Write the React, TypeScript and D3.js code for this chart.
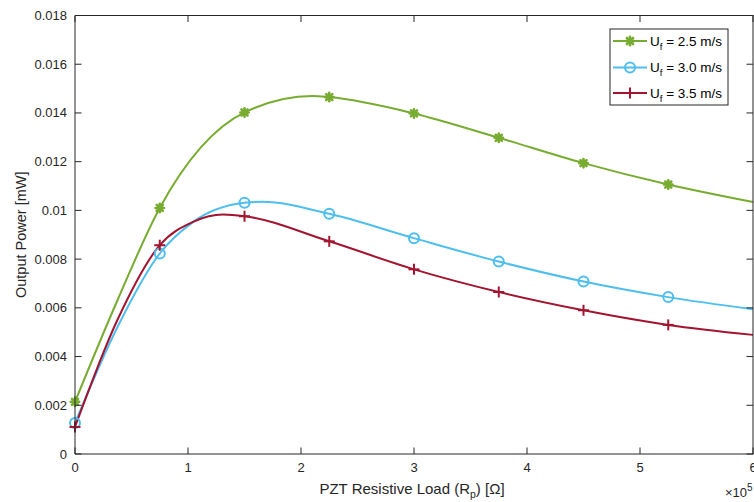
import React from "react";
import * as d3 from "d3";

// ---------- data ----------
const xTicks = [0, 1, 2, 3, 4, 5, 6];
const xTickLabels = ["0", "1", "2", "3", "4", "5", "6"];
const yTicks = [0, 0.002, 0.004, 0.006, 0.008, 0.01, 0.012, 0.014, 0.016, 0.018];
const yTickLabels = ["0", "0.002", "0.004", "0.006", "0.008", "0.01", "0.012", "0.014", "0.016", "0.018"];

const markerX = [0, 0.75, 1.5, 2.25, 3, 3.75, 4.5, 5.25];
const greenMarkers = [0.00214, 0.0101, 0.01402, 0.01465, 0.01398, 0.01298, 0.01194, 0.01106];
const blueMarkers = [0.00127, 0.00823, 0.01031, 0.00986, 0.00886, 0.0079, 0.00708, 0.00644];
const redMarkers = [0.00111, 0.00857, 0.00976, 0.00873, 0.00758, 0.00665, 0.0059, 0.0053];

// extra points (rise, peaks, crossing, right edge)
const greenCurveX = [0.375, 2.1, 6];
const greenCurveY = [0.0063, 0.0147, 0.01034];
const blueCurveX = [0.375, 1.05, 1.66, 6];
const blueCurveY = [0.0052, 0.00954, 0.01035, 0.00594];
const redCurveX = [0.375, 1.05, 1.31, 6];
const redCurveY = [0.0055, 0.00954, 0.00983, 0.00489];

const seriesNames = ["2.5 m/s", "3.0 m/s", "3.5 m/s"];

// ---------- layout ----------
const W = 754;
const H = 502;
const L = 75;
const R = 753;
const T = 15.5;
const B = 454;
const axisColor = "#262626";
const font = "'Liberation Sans', Arial, Helvetica, sans-serif";

const x = d3.scaleLinear().domain([0, 6]).range([L, R]);
const y = d3.scaleLinear().domain([0, 0.018]).range([B, T]);

type Pt = [number, number];
const merge = (mx: number[], my: number[], cx: number[], cy: number[]): Pt[] => {
  const pts: Pt[] = mx.map((v, i) => [v, my[i]] as Pt).concat(cx.map((v, i) => [v, cy[i]] as Pt));
  pts.sort((a, b) => a[0] - b[0]);
  return pts;
};

const line = d3
  .line<Pt>()
  .x((d) => x(d[0]))
  .y((d) => y(d[1]))
  .curve(d3.curveMonotoneX);

const series = [
  { name: seriesNames[0], color: "#77AC30", marker: "star", markers: greenMarkers, pts: merge(markerX, greenMarkers, greenCurveX, greenCurveY) },
  { name: seriesNames[1], color: "#4DBEEE", marker: "circle", markers: blueMarkers, pts: merge(markerX, blueMarkers, blueCurveX, blueCurveY) },
  { name: seriesNames[2], color: "#A2142F", marker: "plus", markers: redMarkers, pts: merge(markerX, redMarkers, redCurveX, redCurveY) },
];

function Marker({ kind, cx, cy, color }: { kind: string; cx: number; cy: number; color: string }) {
  if (kind === "circle") {
    return <circle cx={cx} cy={cy} r={5} fill="none" stroke={color} strokeWidth={2} />;
  }
  if (kind === "plus") {
    const s = 5.5;
    return (
      <g stroke={color} strokeWidth={2}>
        <line x1={cx - s} y1={cy} x2={cx + s} y2={cy} />
        <line x1={cx} y1={cy - s} x2={cx} y2={cy + s} />
      </g>
    );
  }
  const s = 4.2;
  const d = s * 0.72;
  return (
    <g stroke={color} strokeWidth={2.6} strokeLinecap="round">
      <line x1={cx - s} y1={cy} x2={cx + s} y2={cy} />
      <line x1={cx} y1={cy - s} x2={cx} y2={cy + s} />
      <line x1={cx - d} y1={cy - d} x2={cx + d} y2={cy + d} />
      <line x1={cx - d} y1={cy + d} x2={cx + d} y2={cy - d} />
      <circle cx={cx} cy={cy} r={2.8} fill={color} stroke="none" />
    </g>
  );
}

export default function App() {
  const tickLen = 6.5;
  const legendX = 610;
  const legendY = 29;
  const legendW = 118;
  const legendH = 76;
  const rowY = [41, 67.5, 93];
  return (
    <svg
      width={W}
      height={H}
      viewBox={`0 0 ${W} ${H}`}
      style={{ position: "absolute", left: 0, top: 0, background: "#fff" }}
      fontFamily={font}
    >
      <rect x={0} y={0} width={W} height={H} fill="#fff" />
      {/* curves */}
      {series.map((s) => (
        <path key={s.name} d={line(s.pts) || ""} fill="none" stroke={s.color} strokeWidth={2} />
      ))}
      {series.map((s) =>
        s.markers.map((v, i) => (
          <Marker key={s.name + i} kind={s.marker} cx={x(markerX[i])} cy={y(v)} color={s.color} />
        ))
      )}

      {/* box */}
      <g stroke={axisColor} strokeWidth={1} fill="none">
        <line x1={L} y1={B} x2={R + 0.5} y2={B} />
        <line x1={L} y1={T} x2={R + 0.5} y2={T} />
        <line x1={L} y1={T} x2={L} y2={B} />
        <line x1={R} y1={T} x2={R} y2={B} />
        {xTicks.map((t) => (
          <g key={"xt" + t}>
            <line x1={x(t)} y1={B} x2={x(t)} y2={B - tickLen} />
            <line x1={x(t)} y1={T} x2={x(t)} y2={T + tickLen} />
          </g>
        ))}
        {yTicks.map((t) => (
          <g key={"yt" + t}>
            <line x1={L} y1={y(t)} x2={L + tickLen} y2={y(t)} />
            <line x1={R} y1={y(t)} x2={R - tickLen} y2={y(t)} />
          </g>
        ))}
      </g>

      {/* tick labels */}
      <g fill={axisColor} fontSize={13}>
        {xTicks.map((t, i) => (
          <text key={"xl" + t} x={x(t)} y={472} textAnchor="middle">
            {xTickLabels[i]}
          </text>
        ))}
        {yTicks.map((t, i) => (
          <text key={"yl" + t} x={67} y={y(t) + 4.5} textAnchor="end">
            {yTickLabels[i]}
          </text>
        ))}
      </g>

      {/* axis titles */}
      <text x={412} y={494} textAnchor="middle" fontSize={15} fill={axisColor}>
        PZT Resistive Load (R
        <tspan fontSize={10.5} dy={4}>p</tspan>
        <tspan dy={-4}>) [Ω]</tspan>
      </text>
      <text
        transform={`translate(26,${(T + B) / 2}) rotate(-90)`}
        textAnchor="middle"
        fontSize={14.5}
        fill={axisColor}
      >
        Output Power [mW]
      </text>
      <text x={725} y={497} fontSize={13} fill={axisColor}>
        ×10
        <tspan fontSize={10} dy={-6}>5</tspan>
      </text>

      {/* legend */}
      <rect x={legendX} y={legendY} width={legendW} height={legendH} fill="#fff" stroke={axisColor} strokeWidth={1} />
      {series.map((s, i) => (
        <g key={"lg" + i}>
          <line x1={613} y1={rowY[i]} x2={647} y2={rowY[i]} stroke={s.color} strokeWidth={2} />
          <Marker kind={s.marker} cx={630} cy={rowY[i]} color={s.color} />
          <text x={650} y={rowY[i] + 4.5} fontSize={13.5} fill="#000">
            U<tspan fontSize={9.5} dy={4}>f</tspan>
            <tspan dy={-4}> = {s.name}</tspan>
          </text>
        </g>
      ))}
    </svg>
  );
}
